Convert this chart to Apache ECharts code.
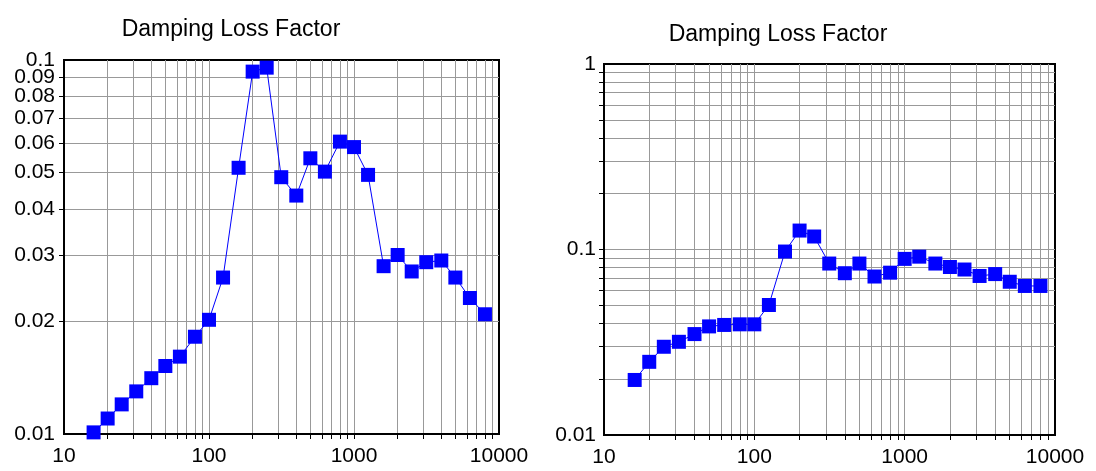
<!DOCTYPE html>
<html>
<head>
<meta charset="utf-8">
<script src="https://cdn.jsdelivr.net/npm/echarts@6/dist/echarts.min.js"></script>
<style>
  html, body { margin: 0; padding: 0; background: #fff; }
  #chart { width: 1096px; height: 471px; }
</style>
</head>
<body>
<div id="chart"></div>
<script>
// 1/3 octave band centre frequencies (Hz)
const freqs = [16, 20, 25, 31.5, 40, 50, 63, 80, 100, 125, 160, 200, 250, 315, 400, 500,
  630, 800, 1000, 1250, 1600, 2000, 2500, 3150, 4000, 5000, 6300, 8000];

// damping loss factor, left panel
const lossLeft = [0.0101, 0.0110, 0.0120, 0.0130, 0.0141, 0.0152, 0.0161, 0.0182, 0.0202, 0.0262,
  0.0515, 0.0931, 0.0954, 0.0486, 0.0434, 0.0546, 0.0503, 0.0605, 0.0585, 0.0493,
  0.0281, 0.0301, 0.0272, 0.0288, 0.0291, 0.0262, 0.0231, 0.0209];

// damping loss factor, right panel
const lossRight = [0.0198, 0.0248, 0.0299, 0.0318, 0.0350, 0.0385, 0.0392, 0.0395, 0.0395, 0.0502,
  0.0975, 0.1265, 0.1175, 0.0840, 0.0745, 0.0840, 0.0715, 0.0750, 0.0890, 0.0915,
  0.0840, 0.0805, 0.0780, 0.0720, 0.0737, 0.0670, 0.0636, 0.0636];

// axis ticks / labels
const xTicks = [20, 30, 40, 50, 60, 70, 80, 90, 100, 200, 300, 400, 500, 600, 700, 800, 900,
  1000, 2000, 3000, 4000, 5000, 6000, 7000, 8000, 9000];
const xLabels = [10, 100, 1000, 10000];
const leftYTicks = [0.02, 0.03, 0.04, 0.05, 0.06, 0.07, 0.08, 0.09];
// left labels split over two axes so the crowded top ones may overlap like the original
const leftYLabelsOdd = [0.01, 0.03, 0.05, 0.07, 0.09];
const leftYLabelsEven = [0.02, 0.04, 0.06, 0.08, 0.1];
const rightYTicks = [0.02, 0.03, 0.04, 0.05, 0.06, 0.07, 0.08, 0.09, 0.1,
  0.2, 0.3, 0.4, 0.5, 0.6, 0.7, 0.8, 0.9];
const rightYLabels = [0.01, 0.1, 1];

const titleText = 'Damping Loss Factor';
const font = 'Liberation Sans, Arial, sans-serif';
const blue = '#0000ff';
const gridGray = '#999999';

const chart = echarts.init(document.getElementById('chart'));

const fmt = v => String(+(+v).toPrecision(3));

const labelStyle = {
  fontSize: 21, color: '#000', fontFamily: font, formatter: fmt,
  hideOverlap: false, showMinLabel: true, showMaxLabel: true,
};

function xAxis(gridIndex) {
  return {
    type: 'log',
    logBase: 10,
    gridIndex,
    min: 10,
    max: 10000,
    axisLine: { show: true, lineStyle: { color: '#000', width: 2 } },
    axisTick: { show: true, inside: false, length: 5, customValues: xTicks,
      lineStyle: { color: '#000', width: 1 } },
    axisLabel: { ...labelStyle, customValues: xLabels, margin: 12 },
    splitLine: { show: true, lineStyle: { color: gridGray, width: 1 } },
  };
}

function yAxis(gridIndex, min, max, ticks, labels, margin) {
  return {
    type: 'log',
    logBase: 10,
    gridIndex,
    min,
    max,
    axisLine: { show: true, lineStyle: { color: '#000', width: 2 } },
    axisTick: { show: true, inside: false, length: 5, customValues: ticks,
      lineStyle: { color: '#000', width: 1 } },
    axisLabel: { ...labelStyle, customValues: labels, margin },
    splitLine: { show: true, lineStyle: { color: gridGray, width: 1 } },
  };
}

function series(idx, values) {
  return {
    type: 'line',
    xAxisIndex: idx,
    yAxisIndex: idx,
    data: freqs.map((f, i) => [f, values[i]]),
    symbol: 'rect',
    symbolSize: 14,
    showAllSymbol: true,
    clip: false,
    lineStyle: { color: blue, width: 1 },
    itemStyle: { color: blue },
  };
}

const extraLabelAxis = {
  type: 'log',
  logBase: 10,
  gridIndex: 0,
  position: 'left',
  min: 0.01,
  max: 0.1,
  axisLine: { show: false },
  axisTick: { show: false },
  splitLine: { show: false },
  axisLabel: { ...labelStyle, customValues: leftYLabelsEven, margin: 9 },
};

chart.setOption({
  animation: false,
  backgroundColor: '#fff',
  title: [
    {
      text: titleText, left: 226, top: 13, textAlign: 'center',
      textStyle: { fontSize: 23, fontWeight: 'normal', color: '#000', fontFamily: font },
    },
    {
      text: titleText, left: 773, top: 18, textAlign: 'center',
      textStyle: { fontSize: 23, fontWeight: 'normal', color: '#000', fontFamily: font },
    },
  ],
  grid: [
    { left: 64, top: 60, right: 597, bottom: 37, show: true, borderColor: '#000', borderWidth: 2,
      backgroundColor: 'transparent' },
    { left: 604, top: 64, right: 41, bottom: 36, show: true, borderColor: '#000', borderWidth: 2,
      backgroundColor: 'transparent' },
  ],
  xAxis: [xAxis(0), xAxis(1)],
  yAxis: [
    yAxis(0, 0.01, 0.1, leftYTicks, leftYLabelsOdd, 9),
    yAxis(1, 0.01, 1, rightYTicks, rightYLabels, 8),
    extraLabelAxis,
  ],
  series: [series(0, lossLeft), series(1, lossRight)],
});
</script>
</body>
</html>
